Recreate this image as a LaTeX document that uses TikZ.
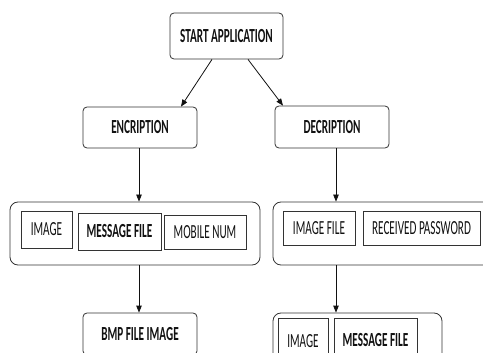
\documentclass[tikz,border=0pt]{standalone}
\usepackage{fontspec}
\setmainfont{Carlito}[FakeStretch=0.56]
\usepackage{tikz}
\usetikzlibrary{arrows.meta,positioning,calc}
\definecolor{Edge}{HTML}{333333}
\definecolor{Ink}{HTML}{111111}

\begin{document}
\begin{tikzpicture}[x=1pt,y=-1pt,
    step box/.style={rounded corners=4pt,draw=Edge,line width=0.8pt,inner sep=0pt,
      text=Ink,font=\fontsize{20}{22}\selectfont\bfseries},
    group/.style={rounded corners=8pt,draw=Edge,line width=0.8pt,inner sep=0pt,
      minimum height=63pt},
    item/.style={draw=Edge,line width=0.9pt,inner sep=0pt,text=Ink,
      font=\fontsize{20}{22}\selectfont},
    arr/.style={-{Triangle[length=7pt,width=5.5pt]},line width=0.8pt,Ink}
  ]
    \clip (0,0) rectangle (483,353);
    % top level
    \node[step box,minimum width=113pt,minimum height=46pt] (start) at (226.5,36) {START APPLICATION};
    \node[step box,minimum width=114pt,minimum height=41pt] (enc) at (140,127.5) {ENCRIPTION};
    \node[step box,minimum width=114pt,minimum height=42pt] (dec) at (332,127) {DECRIPTION};
    % encription inputs
    \node[group,minimum width=250pt] (encin) at (135,233.5) {};
    \node[item,minimum width=51pt,minimum height=37pt] (img) at (46.5,229.5) {IMAGE};
    \node[item,font=\fontsize{20}{22}\selectfont\bfseries,minimum width=83pt,minimum height=37pt] (msg) at (119.5,231.5) {MESSAGE FILE};
    \node[item,minimum width=82pt,minimum height=34pt] (mob) at (205,232) {MOBILE NUM};
    \node[step box,minimum width=114pt,minimum height=42pt] (bmp) at (140,334) {BMP FILE IMAGE};
    % decription inputs
    \node[group,minimum width=230pt] (decin) at (388,233.5) {};
    \node[item,minimum width=72pt,minimum height=34pt] (imgfile) at (319,228) {IMAGE FILE};
    \node[item,minimum width=117pt,minimum height=34pt] (pwd) at (421.5,228) {RECEIVED PASSWORD};
    \node[group,minimum width=169pt] (decout) at (357.5,344.5) {};
    \node[item,minimum width=50pt,minimum height=46pt] (outimg) at (303,341) {IMAGE};
    \node[item,font=\fontsize{20}{22}\selectfont\bfseries,minimum width=83pt,minimum height=44pt] (outmsg) at (375.5,340) {MESSAGE FILE};
    % connectors
    \draw[arr] ([xshift=-14.5pt]start.south) -- ([xshift=41pt]enc.north);
    \draw[arr] ([xshift=21.5pt]start.south) -- ([xshift=-49pt]dec.north);
    \draw[arr] ([xshift=-1pt]enc.south) -- ([xshift=-1pt]enc.south |- encin.north);
    \draw[arr] ([xshift=-1pt]bmp.north |- encin.south) -- ([xshift=-1pt]bmp.north);
    \draw[arr] ([xshift=4pt]dec.south) -- ([xshift=4pt]dec.south |- decin.north);
    \draw[arr] ([xshift=4pt]dec.south |- decin.south) -- ([xshift=4pt]dec.south |- decout.north);
  \end{tikzpicture}
\end{document}
